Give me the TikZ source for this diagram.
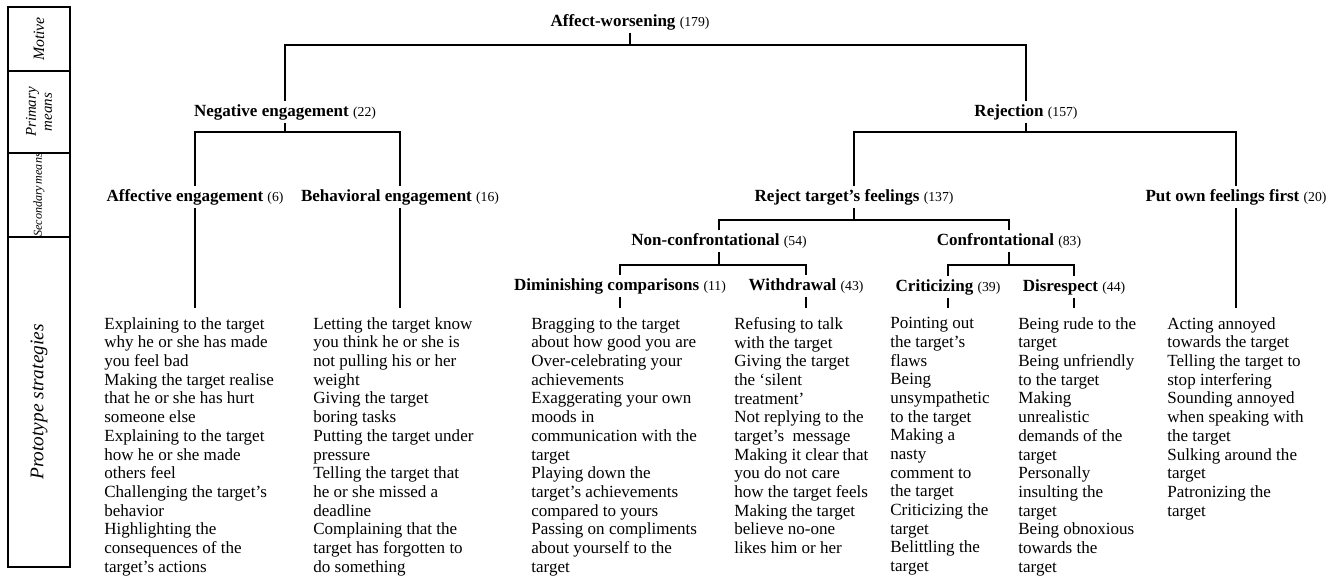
\documentclass[tikz,border=0pt]{standalone}
\usepackage{fontspec}
\setmainfont{Liberation Serif}
\usetikzlibrary{shapes}

\newcommand{\ncount}[1]{{\fontsize{7.8}{9}\selectfont\mdseries(#1)}}

\begin{document}
\begin{tikzpicture}[
x=0.02cm, y=-0.02cm,
rowbox/.style={draw, rotate=90, minimum height=1.24cm, inner sep=0pt, align=center, font=\fontsize{8.5}{9.2}\selectfont\itshape, line width=0.8pt},
level/.style={font=\fontsize{9.7}{11}\selectfont\bfseries, inner sep=1.5pt, text height=7pt, text depth=2pt},
proto/.style={anchor=north west, align=left, inner sep=0pt, font=\fontsize{9.7}{10.64}\selectfont},
link/.style={line width=1pt},
]

\useasboundingbox (0,0) rectangle (1336,577);

% side panel
\node (mot) [rowbox, minimum width=1.28cm, font=\fontsize{9}{10}\selectfont\itshape] at (39,39) {Motive};
\node (pri) [rowbox, minimum width=1.64cm] at (39,112) {Primary\\means};
\node (sec) [rowbox, minimum width=1.68cm, font=\fontsize{6.9}{8}\selectfont\itshape] at (39,195) {Secondary\hspace{0.12em}means};
\node (pro) [rowbox, minimum width=6.6cm, font=\fontsize{11}{12}\selectfont\itshape] at (39,402) {Prototype strategies};

% tree
\node (aw) [level] at (630,22) {Affect-worsening \ncount{179}};
\node (neg) [level] at (285,112) {Negative engagement \ncount{22}};
\node (rej) [level] at (1026,112) {Rejection \ncount{157}};
\node (aff) [level] at (195,197) {Affective engagement \ncount{6}};
\node (beh) [level] at (400,197) {Behavioral engagement \ncount{16}};
\node (rtf) [level] at (854,197) {Reject target’s feelings \ncount{137}};
\node (pof) [level] at (1236,197) {Put own feelings first \ncount{20}};
\node (nonc) [level] at (719,241) {Non-confrontational \ncount{54}};
\node (conf) [level] at (1009,241) {Confrontational \ncount{83}};
\node (dim) [level] at (620,286) {Diminishing comparisons \ncount{11}};
\node (wd) [level] at (806,286) {Withdrawal \ncount{43}};
\node (crit) [level] at (948,287) {Criticizing \ncount{39}};
\node (dis) [level] at (1074,287) {Disrespect \ncount{44}};

% strategies
\node (c1) [proto] at (104,317) {Explaining to the target\\why he or she has made\\you feel bad\\Making the target realise\\that he or she has hurt\\someone else\\Explaining to the target\\how he or she made\\others feel\\Challenging the target’s\\behavior\\Highlighting the\\consequences of the\\target’s actions};
\node (c2) [proto] at (313,317) {Letting the target know\\you think he or she is\\not pulling his or her\\weight\\Giving the target\\boring tasks\\Putting the target under\\pressure\\Telling the target that\\he or she missed a\\deadline\\Complaining that the\\target has forgotten to\\do something};
\node (c3) [proto] at (531,317) {Bragging to the target\\about how good you are\\Over-celebrating your\\achievements\\Exaggerating your own\\moods in\\communication with the\\target\\Playing down the\\target’s achievements\\compared to yours\\Passing on compliments\\about yourself to the\\target};
\node (c4) [proto] at (734,317) {Refusing to talk\\with the target\\Giving the target\\the ‘silent\\treatment’\\Not replying to the\\target’s~ message\\Making it clear that\\you do not care\\how the target feels\\Making the target\\believe no-one\\likes him or her};
\node (c5) [proto] at (890,317) {Pointing out\\the target’s\\flaws\\Being\\unsympathetic\\to the target\\Making a\\nasty\\comment to\\the target\\Criticizing the\\target\\Belittling the\\target};
\node (c6) [proto] at (1018,317) {Being rude to the\\target\\Being unfriendly\\to the target\\Making\\unrealistic\\demands of the\\target\\Personally\\insulting the\\target\\Being obnoxious\\towards the\\target};
\node (c7) [proto] at (1167,317) {Acting annoyed\\towards the target\\Telling the target to\\stop interfering\\Sounding annoyed\\when speaking with\\the target\\Sulking around the\\target\\Patronizing the\\target};

% links
\draw [link] (aw.south) -- ++(0,12) -| (neg.north);
\draw [link] (aw.south) -- ++(0,12) -| (rej.north);
\draw [link] (neg.south) -- ++(0,9) -| (aff.north);
\draw [link] (neg.south) -- ++(0,9) -| (beh.north);
\draw [link] (rej.south) -- ++(0,9) -| (rtf.north);
\draw [link] (rej.south) -- ++(0,9) -| (pof.north);
\draw [link] (rtf.south) -- ++(0,12) -| (nonc.north);
\draw [link] (rtf.south) -- ++(0,12) -| (conf.north);
\draw [link] (nonc.south) -- ++(0,13) -| (dim.north);
\draw [link] (nonc.south) -- ++(0,13) -| (wd.north);
\draw [link] (conf.south) -- ++(0,13) -| (crit.north);
\draw [link] (conf.south) -- ++(0,13) -| (dis.north);
\draw [link, shorten >=5pt] (aff.south) -- (aff.south |- c1.north);
\draw [link, shorten >=5pt] (beh.south) -- (beh.south |- c2.north);
\draw [link, shorten >=5pt] (dim.south) -- (dim.south |- c3.north);
\draw [link, shorten >=5pt] (wd.south) -- (wd.south |- c4.north);
\draw [link, shorten >=5pt] (crit.south) -- (crit.south |- c5.north);
\draw [link, shorten >=5pt] (dis.south) -- (dis.south |- c6.north);
\draw [link, shorten >=5pt] (pof.south) -- (pof.south |- c7.north);

\end{tikzpicture}
\end{document}
